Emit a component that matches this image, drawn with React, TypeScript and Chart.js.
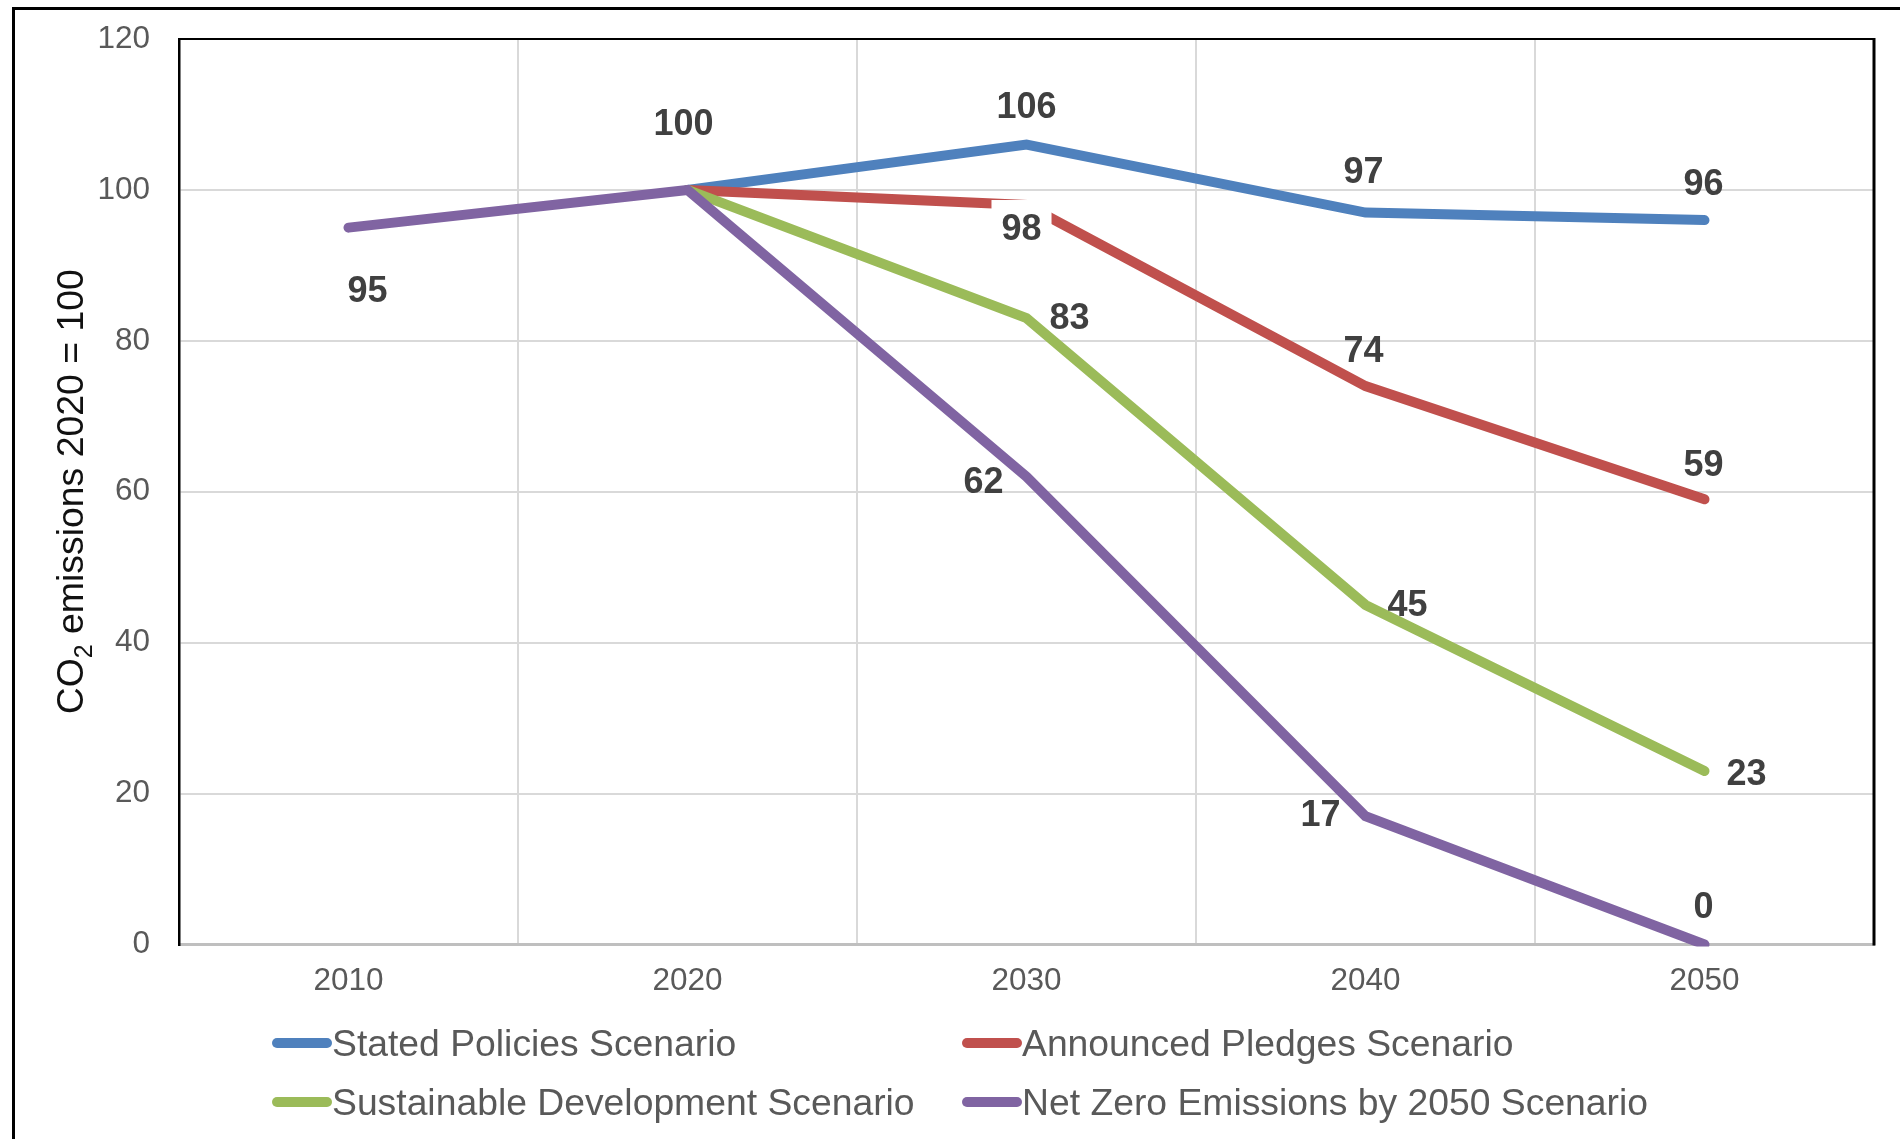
import React, { useEffect, useRef } from 'react';
import { Chart, registerables } from 'chart.js';

Chart.register(...registerables);

// Categories and series values (index: CO2 emissions, 2020 = 100)
const years = ['2010', '2020', '2030', '2040', '2050'];
const statedPolicies = [null, 100, 106, 97, 96];
const announcedPledges = [null, 100, 98, 74, 59];
const sustainableDevelopment = [null, 100, 83, 45, 23];
const netZero2050 = [95, 100, 62, 17, 0];

const seriesNames = [
  'Stated Policies Scenario',
  'Announced Pledges Scenario',
  'Sustainable Development Scenario',
  'Net Zero Emissions by 2050 Scenario',
];
const seriesColors = ['#4F81BD', '#C0504D', '#9BBB59', '#8064A2'];

const yMin = 0;
const yMax = 120;
const yStep = 20;

// Data-label placement relative to each point (dx, dy in px); null = no label
const statedLabelOffsets = [null, null, [0, -40], [-2, -42], [-1, -38]];
const announcedLabelOffsets = [null, null, [-5, 22], [-2, -37], [-1, -36]];
const sustainableLabelOffsets = [null, null, [43, -2], [42, -2], [42, 1]];
const netZeroLabelOffsets = [[19, 61], [-4, -68], [-43, 3], [-45, -3], [-1, -39]];
// labels drawn over a white box
const announcedLabelBoxed = [false, false, true, false, false];

const FONT = "'Liberation Sans', Arial, Helvetica, sans-serif";

const labelOffsets = [statedLabelOffsets, announcedLabelOffsets, sustainableLabelOffsets, netZeroLabelOffsets];
const labelBoxed = [[], announcedLabelBoxed, [], []];

const framePlugin = {
  id: 'frame',
  beforeDraw(chart: any) {
    const ctx = chart.ctx;
    ctx.save();
    ctx.fillStyle = '#ffffff';
    ctx.fillRect(0, 0, chart.width, chart.height);
    // outer chart border
    ctx.strokeStyle = '#000000';
    ctx.lineWidth = 3;
    ctx.beginPath();
    ctx.moveTo(13.5, chart.height + 5);
    ctx.lineTo(13.5, 8.5);
    ctx.lineTo(chart.width + 5, 8.5);
    ctx.stroke();
    ctx.restore();
  },
  afterDraw(chart: any) {
    const ctx = chart.ctx;
    const a = chart.chartArea;
    ctx.save();
    // top and right plot-area border
    ctx.strokeStyle = '#000000';
    ctx.lineWidth = 2;
    ctx.beginPath();
    ctx.moveTo(a.left, a.top);
    ctx.lineTo(a.right, a.top);
    ctx.stroke();
    ctx.lineWidth = 3;
    ctx.beginPath();
    ctx.moveTo(a.right, a.top - 1);
    ctx.lineTo(a.right, a.bottom + 1);
    ctx.stroke();

    // y-axis title with subscript
    ctx.translate(83, (a.top + a.bottom) / 2);
    ctx.rotate(-Math.PI / 2);
    ctx.fillStyle = '#111111';
    ctx.textBaseline = 'alphabetic';
    ctx.textAlign = 'left';
    const big = `37.4px ${FONT}`;
    const small = `25px ${FONT}`;
    ctx.font = big;
    const w1 = ctx.measureText('CO').width;
    const w3 = ctx.measureText(' emissions 2020 = 100').width;
    ctx.font = small;
    const w2 = ctx.measureText('2').width;
    let x = -(w1 + w2 + w3) / 2;
    ctx.font = big;
    ctx.fillText('CO', x, 0);
    x += w1;
    ctx.font = small;
    ctx.fillText('2', x, 9);
    x += w2;
    ctx.font = big;
    ctx.fillText(' emissions 2020 = 100', x, 0);
    ctx.restore();

    // legend: two columns, two rows
    ctx.save();
    const lf = 37.3;
    ctx.font = `${lf}px ${FONT}`;
    ctx.textAlign = 'left';
    ctx.textBaseline = 'alphabetic';
    const cols = [272, 962];
    const markerLen = 60;
    const rows = [1043, 1102];
    chart.data.datasets.forEach((ds: any, i: number) => {
      const cx = cols[i % 2];
      const cy = rows[Math.floor(i / 2)];
      ctx.strokeStyle = ds.borderColor;
      ctx.lineWidth = 10;
      ctx.lineCap = 'round';
      ctx.beginPath();
      ctx.moveTo(cx + 5, cy);
      ctx.lineTo(cx + markerLen - 5, cy);
      ctx.stroke();
      ctx.fillStyle = '#595959';
      ctx.fillText(ds.label, cx + markerLen, cy + lf * 0.358);
    });
    ctx.restore();
  },
};

const dataLabelPlugin = {
  id: 'pointValueLabels',
  afterDatasetsDraw(chart: any) {
    const ctx = chart.ctx;
    const size = 36;
    ctx.save();
    ctx.font = `bold ${size}px ${FONT}`;
    ctx.textAlign = 'center';
    ctx.textBaseline = 'alphabetic';
    chart.data.datasets.forEach((ds: any, i: number) => {
      const meta = chart.getDatasetMeta(i);
      const offs = labelOffsets[i];
      meta.data.forEach((pt: any, j: number) => {
        const off = offs[j];
        const v = ds.data[j];
        if (!off || v === null || v === undefined) return;
        const cx = pt.x + off[0];
        const cy = pt.y + off[1];
        const text = String(v);
        if (labelBoxed[i][j]) {
          const tw = ctx.measureText(text).width;
          ctx.fillStyle = '#ffffff';
          ctx.fillRect(cx - tw / 2 - 10, cy - 27, tw + 20, 54);
        }
        ctx.fillStyle = '#404040';
        ctx.fillText(text, cx, cy + size * 0.358);
      });
    });
    ctx.restore();
  },
};

export default function App() {
  const ref = useRef<HTMLCanvasElement | null>(null);

  useEffect(() => {
    if (!ref.current) return;
    const seriesData = [statedPolicies, announcedPledges, sustainableDevelopment, netZero2050];
    const chart = new Chart(ref.current, {
      type: 'line',
      data: {
        labels: years,
        datasets: seriesData.map((d, i) => ({
          label: seriesNames[i],
          data: d,
          borderColor: seriesColors[i],
          backgroundColor: seriesColors[i],
          borderWidth: 10,
          pointRadius: 0,
          pointHoverRadius: 0,
          borderCapStyle: 'round',
          borderJoinStyle: 'miter',
          tension: 0,
          fill: false,
          order: 4 - i,
          clip: { left: 10, top: 10, right: 10, bottom: 2 },
        })),
      },
      options: {
        responsive: false,
        animation: false,
        devicePixelRatio: 1,
        layout: { padding: { top: 39, right: 26, left: 0, bottom: 0 } },
        plugins: {
          legend: { display: false },
          tooltip: { enabled: false },
        },
        scales: {
          x: {
            type: 'category',
            offset: true,
            grid: { offset: true, color: '#d9d9d9', lineWidth: 2, drawTicks: false },
            border: { display: true, color: '#bfbfbf', width: 3 },
            ticks: {
              color: '#595959',
              font: { family: FONT, size: 31.5 },
              padding: 18,
              maxRotation: 0,
              autoSkip: false,
            },
            afterFit: (s: any) => {
              s.height = 194.5;
            },
          },
          y: {
            min: yMin,
            max: yMax,
            ticks: {
              stepSize: yStep,
              color: '#595959',
              font: { family: FONT, size: 31.5 },
              padding: 0,
            },
            grid: {
              color: '#d9d9d9',
              lineWidth: 2,
              drawTicks: true,
              tickLength: 29,
              tickColor: 'rgba(0,0,0,0)',
            },
            border: { display: true, color: '#000000', width: 2.5 },
            afterFit: (s: any) => {
              s.width = 179;
            },
          },
        },
      } as any,
      plugins: [framePlugin, dataLabelPlugin],
    });
    return () => chart.destroy();
  }, []);

  return (
    <div style={{ position: 'fixed', left: 0, top: 0, width: 1900, height: 1139, background: '#fff' }}>
      <canvas ref={ref} width={1900} height={1139} style={{ display: 'block', width: 1900, height: 1139 }} />
    </div>
  );
}
